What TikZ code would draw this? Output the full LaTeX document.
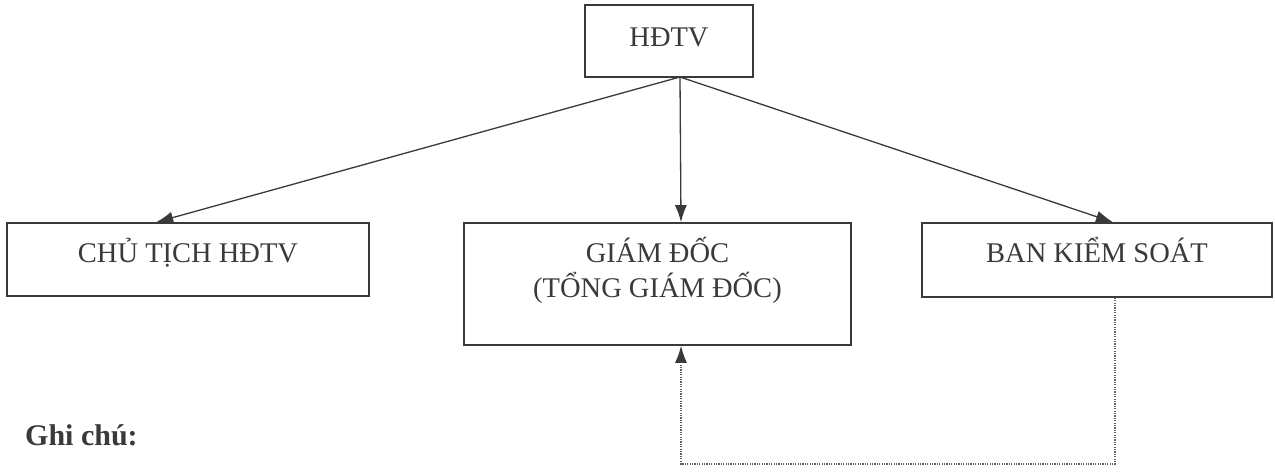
\documentclass[tikz,border=0pt]{standalone}
\usepackage{fontspec}
\setmainfont{Liberation Serif}
\usetikzlibrary{arrows.meta,calc}
\definecolor{ink}{HTML}{3A3A3A}
\begin{document}
\begin{tikzpicture}[x=1pt,y=-1pt,
  boxnode/.style={draw=ink, line width=1.6pt, rectangle, inner sep=0pt},
  lbl/.style={text=ink, font=\fontsize{28.5}{35}\selectfont, inner sep=0pt, anchor=base, align=center},
  conn/.style={draw=ink, line width=1.3pt, -{Latex[length=17pt,width=12pt]}},
  dots/.style={draw=ink!80, line width=1.5pt, dash pattern=on 1.2pt off 1.2pt},
]
\useasboundingbox[fill=white] (0,0) rectangle (1275,473);
% boxes
\node[boxnode, minimum width=168pt, minimum height=72pt] (hdtv) at (669,41) {};
\node[boxnode, minimum width=362pt, minimum height=73pt] (ct) at (188,259.5) {};
\node[boxnode, minimum width=387pt, minimum height=122pt] (gd) at (657.5,284) {};
\node[boxnode, minimum width=350pt, minimum height=74pt] (bks) at (1097,260) {};
% labels
\node[lbl] (thdtv) at (669,47) {HĐTV};
\node[lbl] (tct) at (188,263) {CHỦ TỊCH HĐTV};
\node[lbl] (tgd1) at (657.5,263) {GIÁM ĐỐC};
\node[lbl] (tgd2) at (657.5,298) {(TỔNG GIÁM ĐỐC)};
\node[lbl] (tbks) at (1097,263) {BAN KIỂM SOÁT};
\node[lbl, anchor=base west, font=\fontsize{30}{36}\selectfont\bfseries] (note) at (25,445) {Ghi chú:};
% connector points
\coordinate (src) at (680,77);
\coordinate (pct) at ($(ct.north west)+(150,0)$);
\coordinate (pgd) at (681,0);
\coordinate (pbk) at (1113,0);
\coordinate (bkout) at (1115,0);
\coordinate (corner1) at (1115,464);
\coordinate (corner2) at (681,464);
\draw[conn] (src) -- (pct);
\draw[conn] (src) -- (pgd |- gd.north);
\draw[conn] (src) -- (pbk |- bks.north);
\draw[dots] (bkout |- bks.south) -- (corner1) -- (corner2) -- ($(gd.south -| corner2)+(0,18)$);
\draw[conn] ($(gd.south -| corner2)+(0,17)$) -- (corner2 |- gd.south);
\end{tikzpicture}
\end{document}
